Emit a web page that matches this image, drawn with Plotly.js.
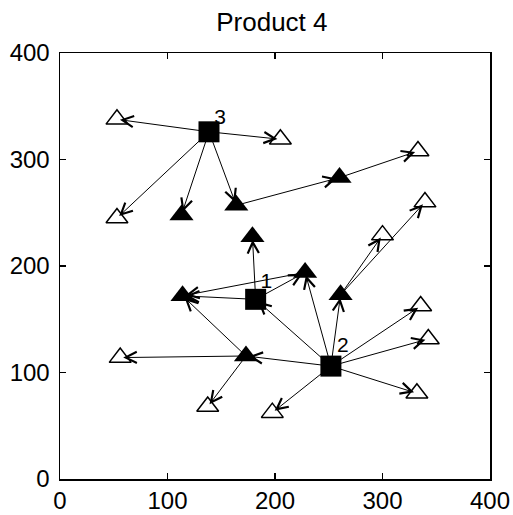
<!DOCTYPE html>
<html>
<head>
<meta charset="utf-8">
<script src="https://cdn.plot.ly/plotly-3.0.1.min.js"></script>
<style>html,body{margin:0;padding:0;background:#fff;}#chart{width:513px;height:515px;}</style>
</head>
<body>
<div id="chart"></div>
<script>
// Facilities (squares)
var facName = ['F1', 'F2', 'F3'];
var facLabel = ['1', '2', '3'];
var facX = [182, 252, 138.6];
var facY = [168.7, 106, 326];
var facLabelX = [192, 263, 149];
var facLabelY = [184, 124, 338];

// Intermediate nodes (filled triangles)
var hubName = ['H1', 'H2', 'H3', 'H4', 'H5', 'H6', 'H7', 'H8'];
var hubX = [113, 164, 260, 179, 228, 114, 261, 173];
var hubY = [248, 257, 283, 227.5, 194, 172, 173, 115.5];

// Customers (open triangles)
var custName = ['C1', 'C2', 'C3', 'C4', 'C5', 'C6', 'C7', 'C8', 'C9', 'C10', 'C11', 'C12'];
var custX = [53, 205, 333, 53, 339.5, 300, 335.5, 342.6, 56, 332, 137.4, 197.5];
var custY = [337.7, 319, 308, 245, 260, 229, 162.4, 131.5, 114, 80.5, 68, 62.3];

// Flows (from -> to)
var edgeFrom = ['F3', 'F3', 'F3', 'F3', 'F3', 'H2', 'H3',
                'F1', 'F1', 'F1', 'H5',
                'F2', 'F2', 'F2', 'F2', 'F2', 'F2', 'F2', 'F2',
                'H7', 'H7', 'H8', 'H8', 'H8'];
var edgeTo   = ['C1', 'C2', 'C4', 'H1', 'H2', 'H3', 'C3',
                'H4', 'H6', 'H5', 'H6',
                'F1', 'H5', 'H7', 'H8', 'C7', 'C8', 'C10', 'C12',
                'C6', 'C5', 'C9', 'C11', 'H6'];

var pos = {};
facName.forEach(function (n, i) { pos[n] = [facX[i], facY[i]]; });
hubName.forEach(function (n, i) { pos[n] = [hubX[i], hubY[i]]; });
custName.forEach(function (n, i) { pos[n] = [custX[i], custY[i]]; });

var annotations = edgeFrom.map(function (f, i) {
  var s = pos[f], t = pos[edgeTo[i]];
  return {
    x: t[0], y: t[1], xref: 'x', yref: 'y',
    ax: s[0], ay: s[1], axref: 'x', ayref: 'y',
    text: '', showarrow: true, arrowhead: 5, arrowsize: 2.2, arrowwidth: 1,
    arrowcolor: '#000', standoff: 3, startstandoff: 0
  };
});

var traces = [
  {
    x: custX, y: custY, mode: 'markers', type: 'scatter', hoverinfo: 'none',
    marker: { symbol: 'triangle-up', size: 19, color: '#fff', line: { color: '#000', width: 1.5 } }
  },
  {
    x: hubX, y: hubY, mode: 'markers', type: 'scatter', hoverinfo: 'none',
    marker: { symbol: 'triangle-up', size: 21, color: '#000', line: { color: '#000', width: 0 } }
  },
  {
    x: facX, y: facY, mode: 'markers', type: 'scatter', hoverinfo: 'none',
    marker: { symbol: 'square', size: 21, color: '#000', line: { color: '#000', width: 0 } }
  },
  {
    x: facLabelX, y: facLabelY, mode: 'text', type: 'scatter', text: facLabel, hoverinfo: 'none',
    textposition: 'middle center',
    textfont: { family: 'Liberation Sans, Arial, sans-serif', size: 21, color: '#000' }
  }
];

var axisCommon = {
  range: [0, 400], tickvals: [0, 100, 200, 300, 400],
  ticks: 'inside', ticklen: 6, tickwidth: 1.5, tickcolor: '#000',
  mirror: 'ticks', showline: true, linewidth: 1.5, linecolor: '#000',
  showgrid: false, zeroline: false, fixedrange: true,
  tickfont: { family: 'Liberation Sans, Arial, sans-serif', size: 24, color: '#000' }
};

var layout = {
  width: 513, height: 515,
  margin: { l: 60, r: 23, t: 53, b: 36 },
  paper_bgcolor: '#fff', plot_bgcolor: '#fff',
  showlegend: false,
  title: {
    text: 'Product 4', x: 0.53, xanchor: 'center', y: 0.957, yanchor: 'middle',
    font: { family: 'Liberation Sans, Arial, sans-serif', size: 26, color: '#000' }
  },
  xaxis: Object.assign({}, axisCommon, { ticklabelstandoff: 0 }),
  yaxis: Object.assign({}, axisCommon, { ticklabelstandoff: 4 }),
  annotations: annotations
};

Plotly.newPlot('chart', traces, layout, { displayModeBar: false, staticPlot: true });
</script>
</body>
</html>
